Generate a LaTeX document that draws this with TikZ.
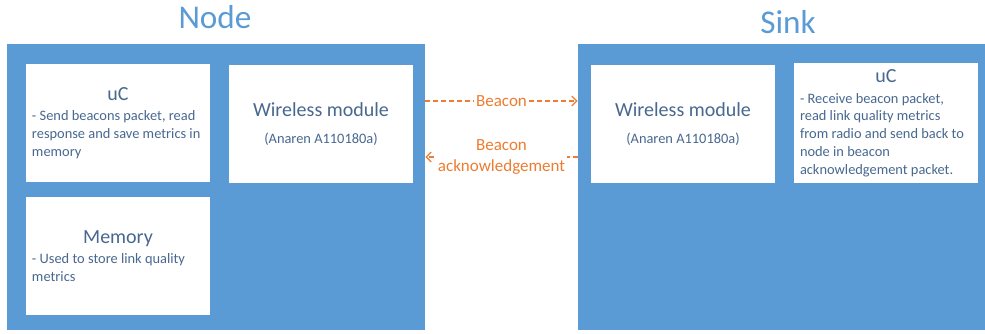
\documentclass[tikz,border=0pt]{standalone}
\usepackage{fontspec}
\setmainfont{Carlito}
\usetikzlibrary{arrows.meta}
\definecolor{boxblue}{RGB}{91,155,213}
\definecolor{txtblue}{RGB}{72,104,144}
\definecolor{linkorange}{RGB}{237,125,49}
\newcommand{\headfont}{\fontsize{10pt}{12pt}\selectfont}
\newcommand{\notefont}{\fontsize{7.2pt}{8.9pt}\selectfont}
\newcommand{\partnote}[2]{\begin{minipage}{86pt}\centering\headfont #1\par\vspace{1.5pt}\raggedright\notefont #2\end{minipage}}

\begin{document}
\begin{tikzpicture}[x=0.5pt,y=-0.5pt,
	unit/.style={fill=boxblue, minimum width=209pt, minimum height=143pt, inner sep=0pt},
	part/.style={fill=white, minimum width=92pt, minimum height=59pt, inner sep=3pt, text=txtblue},
	title/.style={text=boxblue, font=\fontsize{16.6pt}{20pt}\selectfont},
	link/.style={draw=linkorange, line width=0.6pt, dash pattern=on 2.5pt off 1.5pt, -{Straight Barb[length=2.5pt,width=5pt]}},
	lab/.style={fill=white, text=linkorange, inner sep=1pt, align=center, font=\fontsize{8.5pt}{10.4pt}\selectfont}]
	\useasboundingbox (0,0) rectangle (985,333);
	% node side
	\node[title] (nodetitle) at (215,17) {Node};
	\node[unit] (nodeunit) at (216,187) {};
	\node[part] (nodeuc) at (118,123) {\partnote{uC}{- Send beacons packet, read\\response and save metrics in\\memory}};
	\node[part, align=center] (nodewl) at (321,124) {\headfont Wireless module\\[1.5pt]\notefont (Anaren A110180a)};
	\node[part] (nodemem) at (118,256) {\partnote{Memory}{- Used to store link quality\\metrics}};
	% sink side
	\node[title] (sinktitle) at (788,22) {Sink};
	\node[unit, minimum width=203.5pt] (sinkunit) at (781.5,187) {};
	\node[part, align=center] (sinkwl) at (683,124) {\headfont Wireless module\\[1.5pt]\notefont (Anaren A110180a)};
	\node[part] (sinkuc) at (886,123) {\partnote{uC}{- Receive beacon packet,\\read link quality metrics\\from radio and send back to\\node in beacon\\acknowledgement packet.}};
	% radio link
	\draw[link] ([yshift=43pt]nodeunit.east) -- node[lab] {Beacon} ([yshift=43pt]sinkunit.west);
	\draw[link] ([yshift=15pt]sinkunit.west) -- node[lab] {Beacon\\acknowledgement} ([yshift=15pt]nodeunit.east);
\end{tikzpicture}
\end{document}
